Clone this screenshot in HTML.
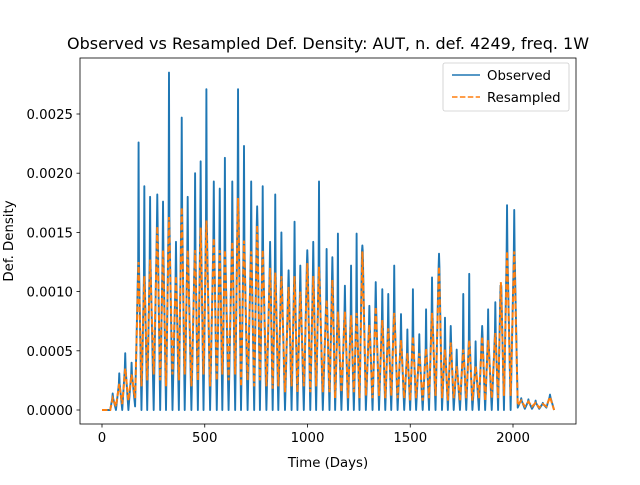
<!DOCTYPE html>
<html><head><meta charset="utf-8"><style>
body{margin:0;background:#fff}
svg text{font-family:"DejaVu Sans","Liberation Sans",sans-serif;fill:#000}
</style></head><body>
<svg id="chart" width="640" height="480" viewBox="0 0 640 480" xmlns="http://www.w3.org/2000/svg">
<rect width="640" height="480" fill="#fff"/>
<text x="328" y="49" font-size="16" text-anchor="middle">Observed vs Resampled Def. Density: AUT, n. def. 4249, freq. 1W</text>
<g id="plot"></g>
<rect x="80" y="58" width="496" height="366" fill="none" stroke="#000" stroke-width="0.8"/>
<g id="xt"></g>
<g id="yt"></g>
<text x="328" y="467" font-size="13.3" text-anchor="middle">Time (Days)</text>
<text transform="translate(13,241) rotate(-90)" font-size="13.3" text-anchor="middle">Def. Density</text>
<g>
<rect x="443" y="63" width="126" height="48" rx="2" fill="#fff" fill-opacity="0.8" stroke="#ccc" stroke-width="0.8"/>
<line x1="452" y1="75" x2="480" y2="75" stroke="#1f77b4" stroke-width="1.5"/>
<text x="487" y="80" font-size="13.3">Observed</text>
<line x1="452" y1="97" x2="480" y2="97" stroke="#ff7f0e" stroke-width="1.5" stroke-dasharray="5.5,2.4"/>
<text x="487" y="102" font-size="13.3">Resampled</text>
</g>
</svg>
<script>
const peakDays=[52,84,113,144,178,206,234,269,297,326,360,388,417,453,480,508,544,573,598,634,662,691,726,755,782,818,843,873,908,937,965,999,1028,1056,1093,1121,1148,1182,1212,1239,1267,1301,1332,1364,1393,1422,1455,1486,1513,1544,1577,1606,1640,1669,1697,1726,1758,1787,1818,1850,1879,1914,1941,1971,2006,2040,2075,2110,2145,2180];
const observedPeaks=[0.00014,0.00031,0.00048,0.0004,0.00226,0.00189,0.0018,0.00182,0.00176,0.00285,0.00142,0.00247,0.0018,0.002,0.0021,0.00271,0.00193,0.00187,0.00213,0.00193,0.00271,0.00223,0.00193,0.00172,0.00189,0.00142,0.00182,0.0015,0.00118,0.00159,0.00122,0.00135,0.00142,0.00193,0.00136,0.00129,0.00149,0.00105,0.00122,0.00149,0.00139,0.00088,0.00108,0.00102,0.00098,0.00122,0.00081,0.00068,0.00102,0.00064,0.00085,0.00112,0.00132,0.00078,0.00071,0.00051,0.00098,0.00115,0.00058,0.00071,0.00085,0.00091,0.00105,0.00173,0.00169,0.0001,0.00009,0.00008,0.00006,0.00013];
const resampledPeaks=[0.0001,0.00022,0.00035,0.0003,0.00125,0.00113,0.00127,0.00155,0.00135,0.00163,0.00113,0.00171,0.00135,0.00135,0.00154,0.0016,0.00145,0.00135,0.00135,0.00142,0.00179,0.00143,0.00134,0.00156,0.00135,0.0012,0.00116,0.00113,0.00104,0.00113,0.001,0.00124,0.00113,0.00121,0.00093,0.0011,0.00083,0.00083,0.0008,0.00082,0.00134,0.00072,0.00087,0.00076,0.00069,0.00082,0.00059,0.00048,0.00062,0.00048,0.00052,0.00082,0.00121,0.00051,0.00057,0.00037,0.00051,0.00059,0.00037,0.00062,0.00059,0.00065,0.00108,0.00134,0.00134,0.00008,0.00007,0.00006,0.00005,0.00011];
const observedTroughs=[0,0,0,0.00003,0,0,0,0,0,0,0,0,0,0,0,0,0,0,0,0,0,0,0,0,0,0,0,0,0,0,0,0,0,0,0,0,0,0,0,0,0,0,0,0,0,0,0,0,0,0,0,0,0,0,0,0,0,0,0,0,0,0,0,0,0.00002,0.00001,0.00001,0.00001,0.00002];
const resampledTroughs=[0.00003,0.00005,0.00008,0.0001,0.0002,0.00025,0.0003,0.00025,0.0002,0.0003,0.00025,0.0003,0.0002,0.00025,0.0003,0.0002,0.00025,0.0003,0.00025,0.0003,0.0002,0.00025,0.0002,0.00025,0.0002,0.00018,0.0002,0.00015,0.0002,0.00015,0.0002,0.00015,0.0002,0.00015,0.00015,0.0001,0.00015,0.0001,0.00015,0.0001,0.00012,0.0001,0.00012,0.0001,0.00012,0.0001,0.0001,0.00008,0.0001,0.00008,0.0001,0.00012,0.0001,0.00008,0.0001,0.00008,0.0001,0.00008,0.0001,0.00008,0.0001,0.0001,0.00012,0.00012,0.00004,0.00003,0.00003,0.00002,0.00003];
const xTicks=[0,500,1000,1500,2000];
const yTicks=[0,0.0005,0.001,0.0015,0.002,0.0025];
const yTickLabels=["0.0000","0.0005","0.0010","0.0015","0.0020","0.0025"];
const startDay=0, endDay=2200;

const NS="http://www.w3.org/2000/svg";
const X=d=>102+d*0.2055;
const Y=v=>410-v*118400;
const fmt=pts=>pts.map(p=>X(p[0]).toFixed(2)+","+Y(p[1]).toFixed(2)).join(" ");
function observedSeries(){
  const pts=[[startDay,0],[40,0]];
  for(let i=0;i<peakDays.length;i++){
    const sh=Math.min(observedPeaks[i],resampledPeaks[i]);
    pts.push([peakDays[i]-2,sh]);
    pts.push([peakDays[i],observedPeaks[i]]);
    pts.push([peakDays[i]+2,sh]);
    if(i<observedTroughs.length) pts.push([(peakDays[i]+peakDays[i+1])/2,observedTroughs[i]]);
  }
  pts.push([endDay,0]);
  return fmt(pts);
}
function resampledSeries(){
  const pts=[[startDay,0],[40,0]];
  for(let i=0;i<peakDays.length;i++){
    pts.push([peakDays[i],resampledPeaks[i]]);
    if(i<resampledTroughs.length) pts.push([(peakDays[i]+peakDays[i+1])/2,resampledTroughs[i]]);
  }
  pts.push([endDay,0]);
  return fmt(pts);
}
const plot=document.getElementById('plot');
const o=document.createElementNS(NS,'polyline');
o.setAttribute('points',observedSeries());
o.setAttribute('fill','none');o.setAttribute('stroke','#1f77b4');o.setAttribute('stroke-width','1.9');o.setAttribute('stroke-linejoin','round');


plot.appendChild(o);
const r=document.createElementNS(NS,'polyline');
r.setAttribute('points',resampledSeries());
r.setAttribute('fill','none');r.setAttribute('stroke','#ff7f0e');r.setAttribute('stroke-width','2');r.setAttribute('stroke-dasharray','5.5,2.4');


plot.appendChild(r);
const xt=document.getElementById('xt');
xTicks.forEach(t=>{
  const l=document.createElementNS(NS,'line');
  l.setAttribute('x1',X(t));l.setAttribute('x2',X(t));l.setAttribute('y1',424);l.setAttribute('y2',427.5);l.setAttribute('stroke','#000');l.setAttribute('stroke-width','0.8');
  
  
  xt.appendChild(l);
  const s=document.createElementNS(NS,'text');
  s.setAttribute('x',X(t));s.setAttribute('y',442);s.setAttribute('font-size','13.3');s.setAttribute('text-anchor','middle');s.textContent=t;
  
  
  xt.appendChild(s);
});
const yt=document.getElementById('yt');
yTicks.forEach((t,i)=>{
  const l=document.createElementNS(NS,'line');
  l.setAttribute('x1',76.5);l.setAttribute('x2',80);l.setAttribute('y1',Y(t));l.setAttribute('y2',Y(t));l.setAttribute('stroke','#000');l.setAttribute('stroke-width','0.8');
  
  
  yt.appendChild(l);
  const s=document.createElementNS(NS,'text');
  s.setAttribute('x',73);s.setAttribute('y',Y(t)+5);s.setAttribute('font-size','13.3');s.setAttribute('text-anchor','end');s.textContent=yTickLabels[i];
  
  
  yt.appendChild(s);
});
</script>
</body></html>
